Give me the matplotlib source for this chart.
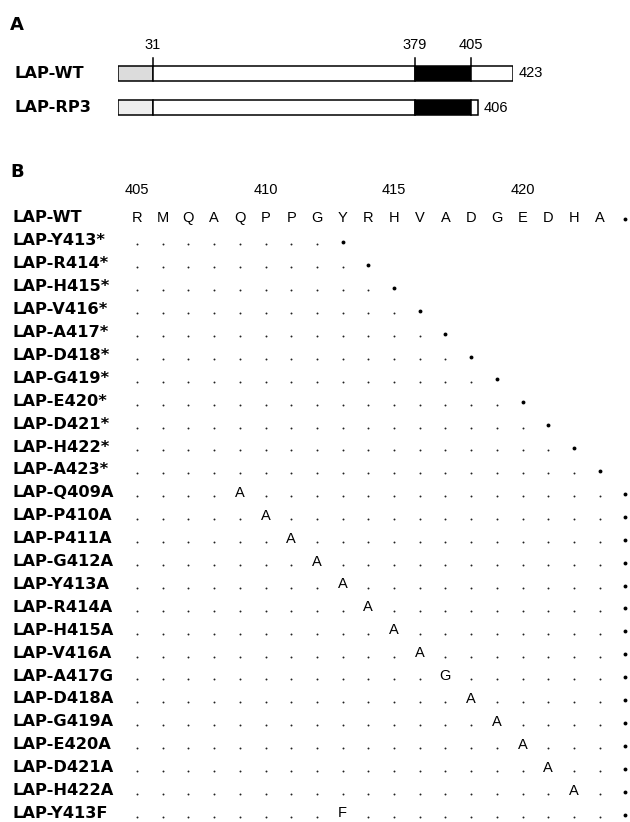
import matplotlib
matplotlib.use("Agg")
import matplotlib.pyplot as plt
import numpy as np
from matplotlib.patches import Rectangle

# ---- panel A: domain schematic ----
constructs = ["LAP-WT", "LAP-RP3"]
construct_ends = [423, 406]
signal_end = 31
box_start = 379
box_end = 405
marked_sites = [31, 379, 405]

# schematic is not drawn to scale: residue -> relative x
res_breaks = [0, 31, 379, 405, 406, 423]
x_breaks = [0, 35.5, 297.5, 353.5, 360.5, 395.5]

# ---- panel B: C-terminal sequence ----
wt_residues = list("RMQAQPPGYRHVADGEDHA")
first_position = 405
stop_position = 424
number_marks = [405, 410, 415, 420]
truncation_sites = [413, 414, 415, 416, 417, 418, 419, 420, 421, 422, 423]
sub_positions = [409, 410, 411, 412, 413, 414, 415, 416, 417, 418, 419, 420, 421, 422, 413]
sub_residues = ["A", "A", "A", "A", "A", "A", "A", "A", "G", "A", "A", "A", "A", "A", "F"]

W, H = 630, 822
fig = plt.figure(figsize=(W / 100, H / 100), dpi=100)

label_font = dict(family="DejaVu Sans", weight="bold", size=11.7)
seq_font = dict(family="Liberation Sans", size=10.5)


def fx(px):
    return px / W


def fy(px):
    return 1 - px / H


fig.text(fx(10), fy(25), "A", va="center", ha="left", family="DejaVu Sans", weight="bold", size=13)
fig.text(fx(10), fy(172), "B", va="center", ha="left", family="DejaVu Sans", weight="bold", size=13)

# ---- panel A ----
a_left, a_right = 117.5, 513
ax_a = fig.add_axes([fx(a_left), fy(130), fx(a_right) - fx(a_left), fy(40) - fy(130)])
ax_a.set_xscale("function", functions=(
    lambda v: np.interp(v, res_breaks, x_breaks),
    lambda v: np.interp(v, x_breaks, res_breaks),
))
ax_a.set_xlim(0, 423)
ax_a.set_ylim(1.638, -0.971)
ax_a.axis("off")

bar_h = 0.435
name_x = (15 - a_left) / (a_right - a_left)
for row, (name, end) in enumerate(zip(constructs, construct_ends)):
    y0 = row - bar_h / 2
    segments = [
        (0, signal_end, "#dcdcdc" if row == 0 else "#eeeeee"),
        (signal_end, box_start, "white"),
        (box_start, min(box_end, end), "black"),
        (min(box_end, end), end, "white"),
    ]
    for a, b, col in segments:
        if b > a:
            ax_a.add_patch(Rectangle((a, y0), b - a, bar_h, facecolor=col,
                                     edgecolor="black", linewidth=1.1))
    ax_a.annotate(str(end), (end, row), xytext=(4, 0), textcoords="offset points",
                  va="center", ha="left", **seq_font)
    ax_a.text(name_x, row, name, transform=ax_a.get_yaxis_transform(),
              va="center", ha="left", **label_font)

top = -bar_h / 2
for site in marked_sites:
    ax_a.plot([site, site], [top, -0.46], color="black", linewidth=1.1)
    ax_a.text(site, -0.83, str(site), ha="center", va="center", **seq_font)

# ---- panel B ----
ax_b = fig.add_axes([0, 0, 1, fy(160)])
col_w = 25.7
x_left = first_position - 137 / col_w
ax_b.set_xlim(x_left, x_left + W / col_w)
row_h = 22.9
wt_y = 218
ax_b.set_ylim((H - wt_y) / row_h, (160 - wt_y) / row_h)
ax_b.axis("off")

positions = list(range(first_position, first_position + len(wt_residues)))
label_x = 13 / W


def dots(row, pos_list):
    ax_b.plot(pos_list, [row + 0.15] * len(pos_list), linestyle="none", marker="o",
              markersize=1.4, color="#222222", markeredgewidth=0)


def bullet(row, pos):
    ax_b.plot([pos], [row + 0.05], linestyle="none", marker="o",
              markersize=2.8, color="black", markeredgewidth=0)


for n in number_marks:
    ax_b.text(n, (190 - wt_y) / row_h, str(n), ha="center", va="center", **seq_font)

# WT row
ax_b.text(label_x, 0, "LAP-WT", transform=ax_b.get_yaxis_transform(), va="center", ha="left", **label_font)
for pos, aa in zip(positions, wt_residues):
    ax_b.text(pos, 0, aa, ha="center", va="center", **seq_font)
bullet(0, stop_position)

row = 1
for site in truncation_sites:
    name = "LAP-%s%d*" % (wt_residues[site - first_position], site)
    ax_b.text(label_x, row, name, transform=ax_b.get_yaxis_transform(), va="center", ha="left", **label_font)
    dots(row, [p for p in positions if p < site])
    bullet(row, site)
    row += 1

for site, aa in zip(sub_positions, sub_residues):
    name = "LAP-%s%d%s" % (wt_residues[site - first_position], site, aa)
    ax_b.text(label_x, row, name, transform=ax_b.get_yaxis_transform(), va="center", ha="left", **label_font)
    dots(row, [p for p in positions if p != site])
    ax_b.text(site, row, aa, ha="center", va="center", **seq_font)
    bullet(row, stop_position)
    row += 1

fig.savefig("out.png", dpi=100)
